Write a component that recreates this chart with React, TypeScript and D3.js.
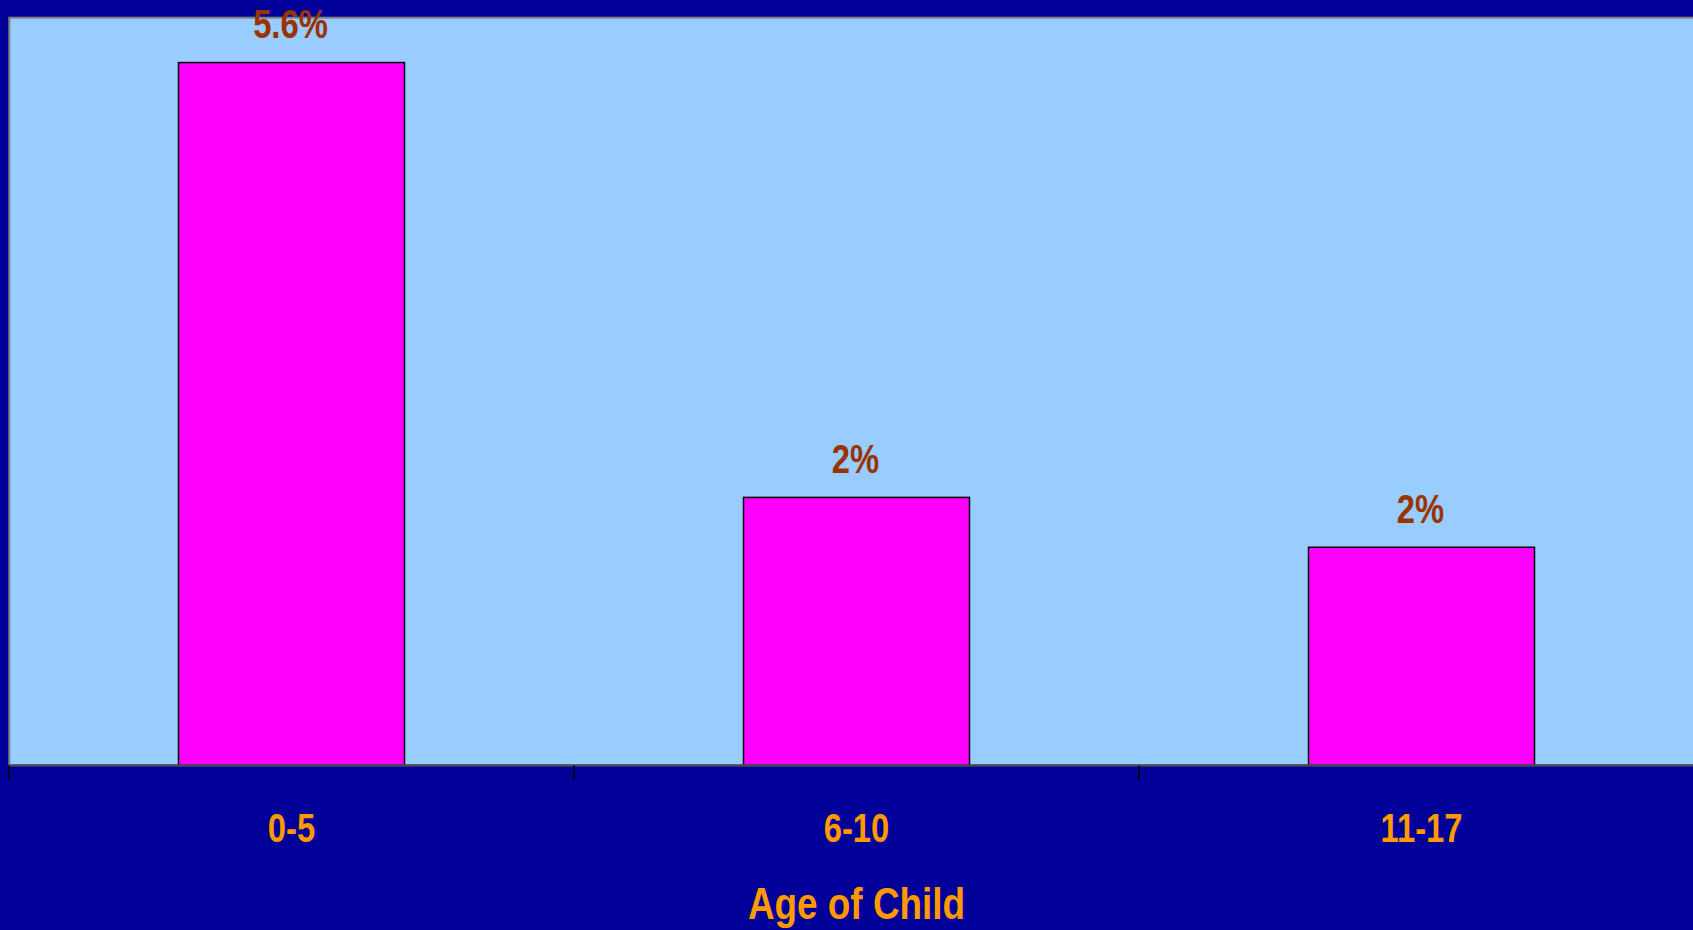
import React from "react";
import * as d3 from "d3";

const categories = ["0-5", "6-10", "11-17"];
const values = [5.64, 2.15, 1.75];
const valueLabels = ["5.6%", "2%", "2%"];
const yDomain = [0, 6];
const xTitle = "Age of Child";

const W = 1693;
const H = 930;
const FONT = "'Liberation Sans', Arial, sans-serif";
const NARROW = 0.82;

function NarrowText(props: { x: number; y: number; size: number; fill: string; children: React.ReactNode }) {
  return (
    <text
      transform={`translate(${props.x},${props.y}) scale(${NARROW},1)`}
      textAnchor="middle"
      fontFamily={FONT}
      fontWeight="bold"
      fontSize={props.size}
      fill={props.fill}
    >
      {props.children}
    </text>
  );
}

export default function App() {
  React.useEffect(() => {
    document.body.style.margin = "0";
  }, []);
  const plotLeft = 9.3;
  const plotTop = 17.7;
  const plotBottom = 765.3;
  const x = d3
    .scaleBand<string>()
    .domain(categories)
    .range([9, 1704])
    .paddingInner(0.6)
    .paddingOuter(0.3);
  const y = d3.scaleLinear().domain(yDomain).range([plotBottom, plotTop]);
  const step = x.step();
  const bw = x.bandwidth();
  const boundaries = categories.map((c) => (x(c) as number) + bw / 2 - step / 2);

  return (
    <div style={{ position: "absolute", left: 0, top: 0 }}>
      <svg width={W} height={H} style={{ display: "block" }}>
        <rect x={0} y={0} width={W} height={H} fill="#000099" />
        <rect
          x={plotLeft}
          y={plotTop}
          width={W + 20}
          height={plotBottom - plotTop}
          fill="#99CCFF"
          stroke="#808080"
          strokeWidth={2}
        />
        {categories.map((c, i) => (
          <rect
            key={c}
            x={x(c)}
            y={y(values[i])}
            width={bw}
            height={plotBottom - y(values[i])}
            fill="#FF00FF"
            stroke="#000000"
            strokeWidth={1.5}
          />
        ))}
        <line x1={plotLeft} x2={W} y1={plotBottom} y2={plotBottom} stroke="#4d4d4d" strokeWidth={2} />
        {boundaries.map((bx, i) => (
          <line key={i} x1={bx} x2={bx} y1={plotBottom} y2={779.5} stroke="#000000" strokeWidth={1.5} />
        ))}
        {categories.map((c, i) => (
          <NarrowText
            key={"v" + c}
            x={(x(c) as number) + bw / 2 - 1}
            y={y(values[i]) - 24.5}
            size={40}
            fill="#993300"
          >
            {valueLabels[i]}
          </NarrowText>
        ))}
        {categories.map((c) => (
          <NarrowText key={"c" + c} x={(x(c) as number) + bw / 2} y={842} size={40} fill="#FF9900">
            {c}
          </NarrowText>
        ))}
        <NarrowText x={(9 + 1704) / 2} y={918.5} size={45} fill="#FF9900">
          {xTitle}
        </NarrowText>
      </svg>
    </div>
  );
}
